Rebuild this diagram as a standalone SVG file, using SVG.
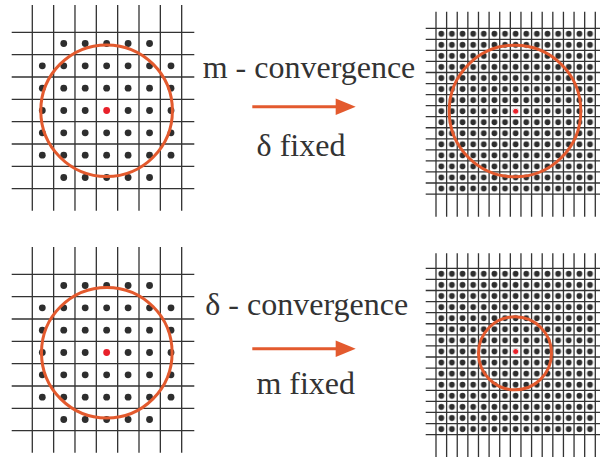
<svg xmlns="http://www.w3.org/2000/svg" xmlns:xlink="http://www.w3.org/1999/xlink" width="600" height="457" viewBox="0 0 600 457">
<style>
.grid{fill:none;stroke:#333;stroke-width:1.3}
.ring{fill:none;stroke:#E35A2E;stroke-width:3}
.dk{fill:#2e2e2e}
.rd{fill:#E8202A}
.arrow{stroke:#E35A2E;stroke-width:3;fill:none}
</style>
<defs>
<marker id="ah" markerUnits="userSpaceOnUse" markerWidth="20" markerHeight="17" refX="4.3" refY="8.3" orient="auto" overflow="visible">
<path d="M0,0 L20,8.3 L0,16.6 z" fill="#E35A2E"/>
</marker>
<pattern id="pt" patternUnits="userSpaceOnUse" x="436" y="28.3" width="10.62" height="11.05">
<circle cx="5.31" cy="5.525" r="2.9" fill="#2e2e2e"/>
</pattern>
<pattern id="pb" patternUnits="userSpaceOnUse" x="436" y="268.3" width="10.62" height="11.09">
<circle cx="5.31" cy="5.545" r="2.9" fill="#2e2e2e"/>
</pattern>
<g id="coarse">
<path class="grid" d="M32.3,5V210.7M53.64,5V210.7M74.98,5V210.7M96.32,5V210.7M117.66,5V210.7M139,5V210.7M160.34,5V210.7M181.68,5V210.7M11.7,32.3H194.3M11.7,54.64H194.3M11.7,76.98H194.3M11.7,99.32H194.3M11.7,121.66H194.3M11.7,144H194.3M11.7,166.34H194.3M11.7,188.68H194.3"/>
<g class="dk">
<circle cx="63.75" cy="43.5" r="3.4"/><circle cx="85.2" cy="43.5" r="3.4"/><circle cx="106.65" cy="43.5" r="3.4"/><circle cx="128.1" cy="43.5" r="3.4"/><circle cx="149.55" cy="43.5" r="3.4"/>
<circle cx="42.3" cy="65.8" r="3.4"/><circle cx="63.75" cy="65.8" r="3.4"/><circle cx="85.2" cy="65.8" r="3.4"/><circle cx="106.65" cy="65.8" r="3.4"/><circle cx="128.1" cy="65.8" r="3.4"/><circle cx="149.55" cy="65.8" r="3.4"/><circle cx="171" cy="65.8" r="3.4"/>
<circle cx="42.3" cy="88.2" r="3.4"/><circle cx="63.75" cy="88.2" r="3.4"/><circle cx="85.2" cy="88.2" r="3.4"/><circle cx="106.65" cy="88.2" r="3.4"/><circle cx="128.1" cy="88.2" r="3.4"/><circle cx="149.55" cy="88.2" r="3.4"/><circle cx="171" cy="88.2" r="3.4"/>
<circle cx="42.3" cy="110.5" r="3.4"/><circle cx="63.75" cy="110.5" r="3.4"/><circle cx="85.2" cy="110.5" r="3.4"/><circle cx="128.1" cy="110.5" r="3.4"/><circle cx="149.55" cy="110.5" r="3.4"/><circle cx="171" cy="110.5" r="3.4"/>
<circle cx="42.3" cy="132.8" r="3.4"/><circle cx="63.75" cy="132.8" r="3.4"/><circle cx="85.2" cy="132.8" r="3.4"/><circle cx="106.65" cy="132.8" r="3.4"/><circle cx="128.1" cy="132.8" r="3.4"/><circle cx="149.55" cy="132.8" r="3.4"/><circle cx="171" cy="132.8" r="3.4"/>
<circle cx="42.3" cy="155.2" r="3.4"/><circle cx="63.75" cy="155.2" r="3.4"/><circle cx="85.2" cy="155.2" r="3.4"/><circle cx="106.65" cy="155.2" r="3.4"/><circle cx="128.1" cy="155.2" r="3.4"/><circle cx="149.55" cy="155.2" r="3.4"/><circle cx="171" cy="155.2" r="3.4"/>
<circle cx="63.75" cy="177.5" r="3.4"/><circle cx="85.2" cy="177.5" r="3.4"/><circle cx="106.65" cy="177.5" r="3.4"/><circle cx="128.1" cy="177.5" r="3.4"/><circle cx="149.55" cy="177.5" r="3.4"/>
</g>
<circle class="rd" cx="106.65" cy="110.5" r="3.4"/>
</g>
<path id="vfine" d="M436,0V205M446.62,0V205M457.24,0V205M467.86,0V205M478.48,0V205M489.1,0V205M499.72,0V205M510.34,0V205M520.96,0V205M531.58,0V205M542.2,0V205M552.82,0V205M563.44,0V205M574.06,0V205M584.68,0V205M595.3,0V205"/>
</defs>

<g id="grid-top-left">
<use xlink:href="#coarse"/>
<circle class="ring" cx="106.6" cy="110.7" r="65.8"/>
</g>

<g id="grid-bottom-left">
<use xlink:href="#coarse" y="242"/>
<circle class="ring" cx="106.8" cy="352.7" r="65.3"/>
</g>

<g id="grid-top-right">
<use xlink:href="#vfine" class="grid" y="11.7"/>
<path class="grid" d="M425.7,28.3H600M425.7,39.35H600M425.7,50.4H600M425.7,61.45H600M425.7,72.5H600M425.7,83.55H600M425.7,94.6H600M425.7,105.65H600M425.7,116.7H600M425.7,127.75H600M425.7,138.8H600M425.7,149.85H600M425.7,160.9H600M425.7,171.95H600M425.7,183H600M425.7,194.05H600"/>
<rect x="436" y="28.3" width="159.3" height="165.75" fill="url(#pt)"/>
<circle cx="515.65" cy="111.15" r="3.1" fill="#fff"/>
<circle class="rd" cx="515.65" cy="111.15" r="2.5"/>
<circle class="ring" cx="515" cy="111" r="65.8"/>
</g>

<g id="grid-bottom-right">
<use xlink:href="#vfine" class="grid" y="253.3"/>
<path class="grid" d="M425.7,268.3H600M425.7,279.39H600M425.7,290.48H600M425.7,301.57H600M425.7,312.66H600M425.7,323.75H600M425.7,334.84H600M425.7,345.93H600M425.7,357.02H600M425.7,368.11H600M425.7,379.2H600M425.7,390.29H600M425.7,401.38H600M425.7,412.47H600M425.7,423.56H600M425.7,434.65H600"/>
<rect x="436" y="268.3" width="159.3" height="166.35" fill="url(#pb)"/>
<circle cx="515.65" cy="351.5" r="3.1" fill="#fff"/>
<circle class="rd" cx="515.65" cy="351.5" r="2.5"/>
<circle class="ring" cx="515" cy="353.3" r="36.5"/>
</g>

<g id="labels" font-family="'Liberation Serif', 'DejaVu Serif', serif" font-size="32" fill="#333" text-anchor="middle">
<text x="309" y="78.3">m - convergence</text>
<text x="301" y="156">δ fixed</text>
<text x="306.7" y="315">δ - convergence</text>
<text x="305.7" y="394.3">m fixed</text>
</g>

<g id="connectors">
<line class="arrow" x1="252.3" y1="106.7" x2="340" y2="106.7" marker-end="url(#ah)"/>
<line class="arrow" x1="252.3" y1="348.7" x2="340" y2="348.7" marker-end="url(#ah)"/>
</g>
</svg>
